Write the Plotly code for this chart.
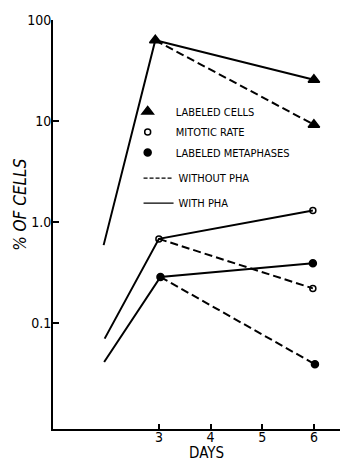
import plotly.graph_objects as go

FONT = "DejaVu Sans Condensed, Liberation Sans Narrow, Arial Narrow, sans-serif"

# ---- data ----
lc_days_with = [1.93, 2.93, 6.0]
lc_with = [0.59, 63, 25.6]
lc_days_without = [2.93, 6.0]
lc_without = [63, 9.2]

mr_days_with = [1.95, 3.0, 5.98]
mr_with = [0.07, 0.68, 1.3]
mr_days_without = [3.0, 5.98]
mr_without = [0.68, 0.22]

lm_days_with = [1.94, 3.03, 5.98]
lm_with = [0.041, 0.285, 0.39]
lm_days_without = [3.03, 6.02]
lm_without = [0.285, 0.039]

y_tickvals = [0.1, 1, 10, 100]
y_ticktext = ["0.1", "1.0", "10", "100"]
x_tickvals = [3, 4, 5, 6]
x_ticktext = ["3", "4", "5", "6"]

legend_markers = ["LABELED CELLS", "MITOTIC RATE", "LABELED METAPHASES"]
legend_lines = ["WITHOUT PHA", "WITH PHA"]

fig = go.Figure()

def line(x, y, dash):
    fig.add_trace(go.Scatter(x=x, y=y, mode="lines", showlegend=False,
                             line=dict(color="black", width=2, dash=dash),
                             hoverinfo="skip"))

def marks(x, y, symbol, size):
    fig.add_trace(go.Scatter(x=x, y=y, mode="markers", showlegend=False,
                             marker=dict(symbol=symbol, size=size, color="black",
                                         line=dict(color="black", width=1.5)),
                             hoverinfo="skip"))

dash = "8px,4px"
line(lc_days_with, lc_with, "solid")
line(lc_days_without, lc_without, dash)
line(mr_days_with, mr_with, "solid")
line(mr_days_without, mr_without, dash)
line(lm_days_with, lm_with, "solid")
line(lm_days_without, lm_without, dash)

marks(lc_days_with[1:], lc_with[1:], "triangle-up", 10)
marks(lc_days_without[1:], lc_without[1:], "triangle-up", 10)
marks(mr_days_with[1:], mr_with[1:], "circle-open", 6)
marks(mr_days_without[1:], mr_without[1:], "circle-open", 6)
marks(lm_days_with[1:], lm_with[1:], "circle", 7)
marks(lm_days_without[1:], lm_without[1:], "circle", 7)

# legend entries (marker symbols)
for name, sym, sz in zip(legend_markers, ["triangle-up", "circle-open", "circle"], [10, 6, 7]):
    fig.add_trace(go.Scatter(x=[None], y=[None], mode="markers", name=name,
                             legend="legend", legendgroup=name,
                             marker=dict(symbol=sym, size=sz, color="black",
                                         line=dict(color="black", width=1.5))))
# legend entries (line styles)
for name, d in zip(legend_lines, ["4px,2px", "solid"]):
    fig.add_trace(go.Scatter(x=[None], y=[None], mode="lines", name=name,
                             legend="legend2", legendgroup=name,
                             line=dict(color="black", width=1.3, dash=d)))

# the page body has an 8px margin, so the figure is 8px smaller each way
fig.update_layout(
    width=340, height=454,
    margin=dict(l=45, r=0, t=12, b=33),
    paper_bgcolor="white", plot_bgcolor="white",
    font=dict(family=FONT, color="black", size=11),
    legend=dict(x=0.226, y=0.812, xanchor="left", yanchor="top",
                bgcolor="rgba(0,0,0,0)", font=dict(size=11, family=FONT),
                itemwidth=46, tracegroupgap=1.5),
    legend2=dict(x=0.29, y=0.649, xanchor="left", yanchor="top",
                 bgcolor="rgba(0,0,0,0)", font=dict(size=11, family=FONT),
                 itemwidth=30, tracegroupgap=6),
    xaxis=dict(range=[0.95, 6.66], tickvals=x_tickvals, ticktext=x_ticktext,
               ticks="inside", ticklen=5, tickwidth=1.5, tickcolor="black",
               showline=True, linecolor="black", linewidth=2, showgrid=False,
               zeroline=False, ticklabelstandoff=-6,
               tickfont=dict(size=14, family=FONT)),
    yaxis=dict(type="log", range=[-2.05, 2.0], tickvals=y_tickvals, ticktext=y_ticktext,
               ticks="inside", ticklen=6, tickwidth=1.5, tickcolor="black",
               showline=True, linecolor="black", linewidth=2, showgrid=False,
               zeroline=False, ticklabelstandoff=-3,
               tickfont=dict(size=14, family=FONT)),
    annotations=[
        dict(text="DAYS", xref="paper", yref="paper", x=0.519, y=-0.059,
             showarrow=False, font=dict(size=15, family=FONT), xanchor="center", yanchor="middle"),
        dict(text="<i>% OF CELLS</i>", xref="paper", yref="paper", x=-0.112, y=0.548,
             showarrow=False, textangle=-90, font=dict(size=17, family=FONT),
             xanchor="center", yanchor="middle"),
    ],
)

fig.write_html("out.html")
